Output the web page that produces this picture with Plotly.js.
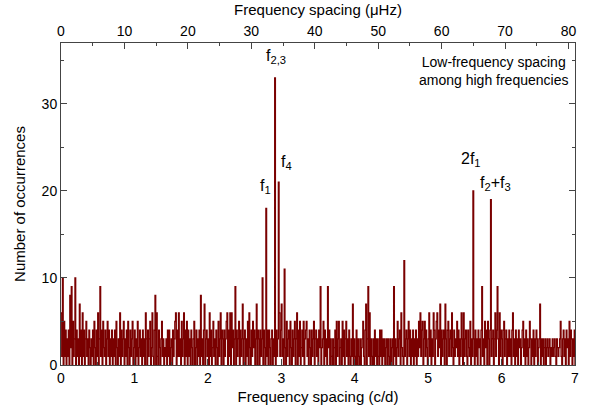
<!DOCTYPE html>
<html><head><meta charset="utf-8">
<script src="https://cdn.plot.ly/plotly-3.0.1.min.js"></script>
<style>html,body{margin:0;padding:0;background:#fff}#chart{width:590px;height:408px}</style>
</head><body><div id="chart"></div>
<script>
// bin width 0.01 c/d, bins starting at 0.00
const binWidth = 0.01;
const counts = [
6,1,10,0,5,1,4,0,3,1, 4,0,8,2,9,0,5,1,3,10, 0,4,1,3,0,7,1,4,0,6, 1,4,0,3,5,1,3,0,4,2, 0,3,1,4,0,5,2,0,4,1,
6,0,3,9,1,4,0,5,2,1, 4,0,3,5,1,4,0,3,1,4, 0,3,1,4,0,5,2,0,3,1, 6,0,4,1,3,5,0,3,1,4, 0,5,2,0,4,1,3,5,0,2,
4,0,3,1,5,0,2,4,1,3, 0,4,1,3,0,6,3,0,4,1, 3,5,0,2,6,1,0,4,8,0, 6,1,0,4,2,0,3,5,1,3, 0,2,1,3,0,4,1,4,0,2,
3,0,4,1,3,5,6,0,4,1, 6,1,3,0,5,1,3,6,0,4, 1,5,0,4,1,3,0,4,2,0, 3,5,0,2,4,0,3,1,4,0, 8,1,3,0,4,7,0,3,4,1,
3,0,6,1,4,0,2,5,1,3, 0,4,2,0,5,1,3,6,0,4, 3,0,4,1,3,5,6,0,4,1, 6,0,6,2,4,0,3,9,0,4, 1,3,5,0,4,1,3,7,0,3,
4,0,3,1,5,0,6,2,0,4, 1,5,2,4,0,3,7,0,4,3, 0,4,1,3,10,0,4,2,0,18, 1,4,0,4,2,0,3,4,0,3, 1,33,0,4,1,3,21,6,1,4,
7,1,3,0,11,2,0,5,1,3, 4,0,5,2,0,4,1,3,5,0, 3,6,0,4,1,5,0,2,4,1, 5,0,3,4,5,1,3,0,4,2, 0,4,1,3,5,0,3,4,1,3,
0,4,2,9,0,2,3,5,0,4, 1,3,0,9,2,4,0,3,1,0, 3,0,2,4,0,5,1,3,5,0, 2,3,0,5,1,4,0,3,5,1, 3,0,4,1,0,3,1,7,0,3,
1,0,4,0,3,1,0,3,0,2, 3,5,1,0,4,7,0,3,9,1, 6,0,3,1,0,3,0,4,1,3, 0,3,1,0,4,1,4,0,3,1, 3,0,2,3,0,3,1,0,3,0,
2,3,0,9,1,3,0,2,5,1, 3,4,0,6,2,1,0,12,1,3, 4,0,3,5,1,4,0,3,1,4, 0,3,1,4,0,3,1,5,2,6, 1,4,5,0,3,5,1,4,2,0,
3,6,1,4,0,3,1,6,4,0, 3,5,6,1,4,2,7,0,4,1, 3,4,0,7,3,0,4,5,1,3, 4,1,6,2,0,4,1,3,2,5, 1,4,0,3,1,6,3,0,6,1,
3,4,1,0,4,2,1,5,0,3, 1,20,3,0,4,1,3,0,4,2, 3,0,4,9,1,3,0,5,2,4, 0,5,3,0,4,19,1,3,4,0, 3,6,1,4,9,3,0,6,1,4,
3,0,4,5,1,3,4,0,3,1, 4,1,3,0,4,6,1,3,0,4, 1,3,0,4,2,3,0,2,4,5, 1,3,0,4,1,3,0,2,5,3, 0,3,1,4,0,3,1,4,3,0,
2,3,7,0,3,1,3,0,2,3, 0,2,3,1,2,3,0,2,1,3, 1,2,3,1,0,3,2,1,2,3, 5,1,0,3,4,1,3,0,4,2, 3,0,5,1,4,3,0,3,1,4,
0
];
const cdToMicroHz = 11.574074;
const xMax = 7;
const yMax = 37;
const bottomTicks = [0,1,2,3,4,5,6,7];
const topTicks = [0,10,20,30,40,50,60,70,80];
const leftTicks = [0,10,20,30];
const peakLabels = [
  {x: 2.93, y: 35.4, text: 'f<sub>2,3</sub>'},
  {x: 3.07, y: 23.3, text: 'f<sub>4</sub>'},
  {x: 2.78, y: 20.5, text: 'f<sub>1</sub>'},
  {x: 5.58, y: 23.6, text: '2f<sub>1</sub>'},
  {x: 5.92, y: 20.8, text: 'f<sub>2</sub>+f<sub>3</sub>'}
];

const xs = counts.map((c, i) => +(i * binWidth).toFixed(3));

const FONT = 'Arial, Liberation Sans, sans-serif';
const axisCommon = {
  showline: true, linecolor: '#444', linewidth: 1, mirror: false,
  ticks: 'inside', ticklen: 6, tickcolor: '#444', tickwidth: 1,
  showgrid: false, zeroline: false,
  tickfont: {family: FONT, size: 14, color: '#000'}
};

const traces = [
  {x: xs, y: counts, type: 'scatter', mode: 'lines', line: {shape: 'hv', color: '#7a0000', width: 1.3}, hoverinfo: 'skip', xaxis: 'x', yaxis: 'y'},
  {x: [0, xMax * cdToMicroHz], y: [0, 0], type: 'scatter', mode: 'lines', line: {width: 0}, opacity: 0, hoverinfo: 'skip', xaxis: 'x2', yaxis: 'y'},
  {x: [0], y: [0], type: 'scatter', mode: 'markers', opacity: 0, hoverinfo: 'skip', xaxis: 'x', yaxis: 'y2'}
];

const layout = {
  width: 590, height: 408,
  margin: {l: 61, r: 15, t: 43, b: 43},
  paper_bgcolor: '#fff', plot_bgcolor: '#fff',
  showlegend: false,
  font: {family: FONT, size: 14, color: '#000'},
  xaxis: Object.assign({}, axisCommon, {
    range: [0, xMax], tickvals: bottomTicks, ticktext: bottomTicks.map(String),
    minor: {dtick: 0.5, ticklen: 3, ticks: 'inside', tickcolor: '#444'},
    title: {text: 'Frequency spacing (c/d)', font: {family: FONT, size: 15}, standoff: 6}
  }),
  xaxis2: Object.assign({}, axisCommon, {
    overlaying: 'x', side: 'top', anchor: 'y',
    range: [0, xMax * cdToMicroHz], tickvals: topTicks, ticktext: topTicks.map(String),
    minor: {dtick: 5, ticklen: 3, ticks: 'inside', tickcolor: '#444'},
    title: {text: 'Frequency spacing (μHz)', font: {family: FONT, size: 15}, standoff: 4}
  }),
  yaxis: Object.assign({}, axisCommon, {
    range: [0, yMax], tickvals: leftTicks, ticktext: leftTicks.map(String),
    minor: {dtick: 5, ticklen: 3, ticks: 'inside', tickcolor: '#444'},
    title: {text: 'Number of occurrences', font: {family: FONT, size: 15}, standoff: 12}
  }),
  yaxis2: {
    overlaying: 'y', side: 'right', anchor: 'x', range: [0, yMax],
    showline: true, linecolor: '#444', linewidth: 1, ticks: 'inside', ticklen: 6, tickcolor: '#444',
    tickvals: leftTicks, showticklabels: false, showgrid: false, zeroline: false,
    minor: {dtick: 5, ticklen: 3, ticks: 'inside', tickcolor: '#444'}
  },
  annotations: peakLabels.map(p => ({
    x: p.x, y: p.y, xref: 'x', yref: 'y', text: p.text, showarrow: false,
    font: {family: FONT, size: 16, color: '#000'}, xanchor: 'center', yanchor: 'middle'
  })).concat([{
    x: 0.842, y: 0.912, xref: 'paper', yref: 'paper', showarrow: false,
    text: 'Low-frequency spacing<br>among high frequencies', align: 'center',
    font: {family: FONT, size: 14, color: '#000'}, xanchor: 'center', yanchor: 'middle'
  }])
};

Plotly.newPlot('chart', traces, layout, {staticPlot: true, displayModeBar: false});
</script>
</body></html>
